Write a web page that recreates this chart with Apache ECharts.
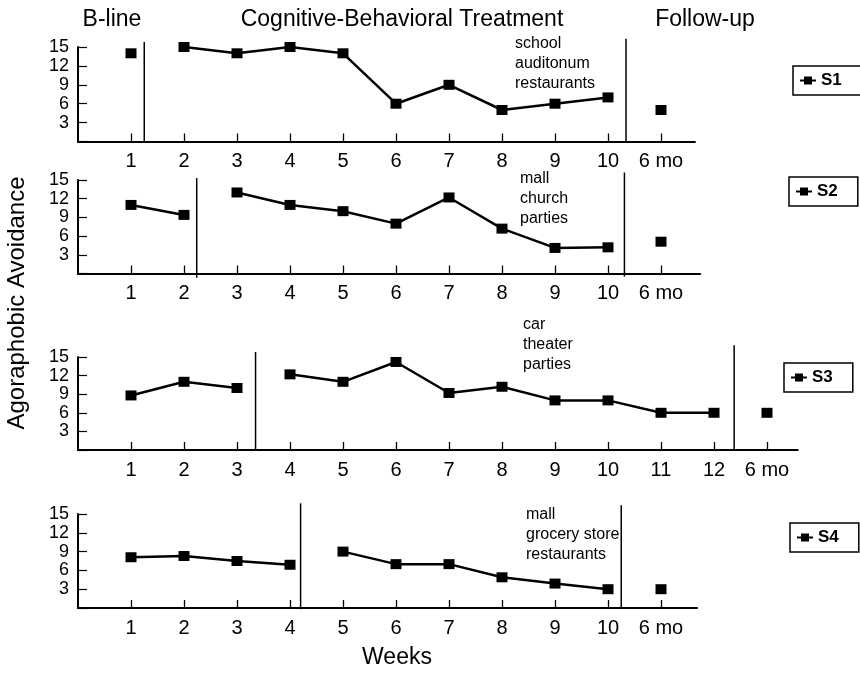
<!DOCTYPE html>
<html>
<head>
<meta charset="utf-8">
<script src="https://cdn.jsdelivr.net/npm/echarts@6/dist/echarts.min.js"></script>
<style>
html,body{margin:0;padding:0;background:#fff;}
#chart{width:860px;height:673px;}
</style>
</head>
<body>
<div id="chart"></div>
<script>
// ---------- DATA ----------
const phaseTitles = ['B-line', 'Cognitive-Behavioral Treatment', 'Follow-up'];
const yTitle = 'Agoraphobic Avoidance';
const xTitle = 'Weeks';

const S1_baseline = [14];
const S1_treatment = [15, 14, 15, 14, 6, 9, 5, 6, 7];
const S1_followup = [5];
const S1_ticks = ['1', '2', '3', '4', '5', '6', '7', '8', '9', '10', '6 mo'];
const S1_phaseBreaks = [1.25, 10.34];
const S1_places = ['school', 'auditonum', 'restaurants'];

const S2_baseline = [11, 9.4];
const S2_treatment = [13, 11, 10, 8, 12.2, 7.2, 4.1, 4.2];
const S2_followup = [5.1];
const S2_ticks = ['1', '2', '3', '4', '5', '6', '7', '8', '9', '10', '6 mo'];
const S2_phaseBreaks = [2.24, 10.31];
const S2_places = ['mall', 'church', 'parties'];

const S3_baseline = [8.8, 11, 10];
const S3_treatment = [12.2, 11, 14.2, 9.2, 10.2, 8, 8, 6, 6];
const S3_followup = [6];
const S3_ticks = ['1', '2', '3', '4', '5', '6', '7', '8', '9', '10', '11', '12', '6 mo'];
const S3_phaseBreaks = [3.35, 12.38];
const S3_places = ['car', 'theater', 'parties'];

const S4_baseline = [8.1, 8.3, 7.5, 6.9];
const S4_treatment = [9, 7, 7, 4.9, 3.9, 3];
const S4_followup = [3];
const S4_ticks = ['1', '2', '3', '4', '5', '6', '7', '8', '9', '10', '6 mo'];
const S4_phaseBreaks = [4.2, 10.25];
const S4_places = ['mall', 'grocery store', 'restaurants'];

const subjects = [
  {name: 'S1', baseline: S1_baseline, treatment: S1_treatment, followup: S1_followup, ticks: S1_ticks, breaks: S1_phaseBreaks, places: S1_places},
  {name: 'S2', baseline: S2_baseline, treatment: S2_treatment, followup: S2_followup, ticks: S2_ticks, breaks: S2_phaseBreaks, places: S2_places},
  {name: 'S3', baseline: S3_baseline, treatment: S3_treatment, followup: S3_followup, ticks: S3_ticks, breaks: S3_phaseBreaks, places: S3_places},
  {name: 'S4', baseline: S4_baseline, treatment: S4_treatment, followup: S4_followup, ticks: S4_ticks, breaks: S4_phaseBreaks, places: S4_places}
];

// ---------- LAYOUT ----------
const FONT = "'Liberation Sans', Arial, Helvetica, sans-serif";
const PX_PER_WEEK = 53;
const GRID_LEFT = 78;
const layout = [
  {top: 47,  height: 94.5, xMax: 11.64, legend: [793, 66],  note: [515, 33.5], lineTop: [15.8, 16.3], lineBottom: [0, 0]},
  {top: 180, height: 93.5, xMax: 11.74, legend: [789, 177], note: [520, 168.5], lineTop: [15.3, 16.2], lineBottom: [-0.7, -0.5]},
  {top: 357, height: 93,   xMax: 13.58, legend: [784, 363], note: [523, 315],  lineTop: [15.8, 16.9], lineBottom: [0, 0]},
  {top: 514, height: 94,   xMax: 11.68, legend: [790, 523], note: [526, 505],  lineTop: [16.7, 16.4], lineBottom: [-0.2, 0]}
];

const grids = [], xAxes = [], yAxes = [], series = [], legends = [], graphics = [];

subjects.forEach((s, i) => {
  const L = layout[i];
  grids.push({left: GRID_LEFT, top: L.top, width: L.xMax * PX_PER_WEEK, height: L.height, containLabel: false, outerBoundsMode: 'none'});
  const tickVals = s.ticks.map((t, k) => k + 1);
  xAxes.push({
    type: 'value', gridIndex: i, min: 0, max: L.xMax, interval: 1,
    axisLine: {show: true, onZero: false, lineStyle: {color: '#000', width: 2}},
    axisTick: {show: true, inside: true, length: 8, customValues: tickVals, lineStyle: {color: '#000', width: 1.3}},
    axisLabel: {show: true, customValues: tickVals, margin: 10, color: '#000', fontSize: 20, fontFamily: FONT,
      showMinLabel: true, showMaxLabel: true, hideOverlap: false,
      formatter: v => s.ticks[Math.round(v) - 1] || ''},
    splitLine: {show: false}
  });
  yAxes.push({
    type: 'value', gridIndex: i, min: 0, max: 15, interval: 3,
    axisLine: {show: true, lineStyle: {color: '#000', width: 2}},
    axisTick: {show: true, inside: true, length: 9, interval: 0, lineStyle: {color: '#000', width: 1.2}},
    axisLabel: {show: true, interval: 0, margin: 9, color: '#000', fontSize: 18, fontFamily: FONT, lineHeight: 12,
      showMinLabel: true, showMaxLabel: true, hideOverlap: false,
      formatter: v => (v === 0 ? '' : String(v))},
    splitLine: {show: false}
  });
  const nb = s.baseline.length, nt = s.treatment.length;
  const common = {
    type: 'line', name: s.name, xAxisIndex: i, yAxisIndex: i,
    symbol: 'rect', symbolSize: [11, 10], showSymbol: true,
    lineStyle: {color: '#000', width: 2.5}, itemStyle: {color: '#000'},
    silent: true, z: 3
  };
  series.push(Object.assign({}, common, {data: s.baseline.map((v, k) => [k + 1, v])}));
  series.push(Object.assign({}, common, {data: s.treatment.map((v, k) => [nb + k + 1, v])}));
  series.push(Object.assign({}, common, {data: s.followup.map((v, k) => [nb + nt + k + 1, v])}));
  s.breaks.forEach((b, k) => {
    series.push({
      type: 'line', name: '_phase' + i + k, xAxisIndex: i, yAxisIndex: i, symbol: 'none', clip: false,
      lineStyle: {color: '#000', width: 1.5}, silent: true, z: 2,
      data: [[b, L.lineBottom[k]], [b, L.lineTop[k]]]
    });
  });
  legends.push({
    data: [s.name], left: L.legend[0], top: L.legend[1], orient: 'horizontal',
    padding: [6, 20, 6, 6], itemWidth: 16, itemHeight: 10,
    borderColor: '#000', borderWidth: 1.5, backgroundColor: '#fff',
    selectedMode: false,
    textStyle: {color: '#000', fontSize: 17, fontWeight: 'bold', fontFamily: FONT}
  });
  graphics.push({
    type: 'text', x: L.note[0], y: L.note[1], silent: true,
    style: {text: s.places.join('\n'), fill: '#000', font: '16px ' + FONT, lineHeight: 20, textVerticalAlign: 'top', textAlign: 'left'}
  });
});

const titlePos = [[112, 20], [402, 20], [705, 20]];
phaseTitles.forEach((t, k) => {
  graphics.push({type: 'text', x: titlePos[k][0], y: titlePos[k][1], silent: true,
    style: {text: t, fill: '#000', font: '23px ' + FONT, textAlign: 'center', textVerticalAlign: 'middle'}});
});
graphics.push({type: 'text', x: 17, y: 303, rotation: Math.PI / 2, silent: true,
  style: {text: yTitle, fill: '#000', font: '24px ' + FONT, textAlign: 'center', textVerticalAlign: 'middle'}});
graphics.push({type: 'text', x: 397, y: 658, silent: true,
  style: {text: xTitle, fill: '#000', font: '23px ' + FONT, textAlign: 'center', textVerticalAlign: 'middle'}});

const chart = echarts.init(document.getElementById('chart'), null, {renderer: 'canvas'});
chart.setOption({
  animation: false,
  backgroundColor: '#fff',
  textStyle: {fontFamily: FONT},
  grid: grids, xAxis: xAxes, yAxis: yAxes, series: series, legend: legends, graphic: graphics
});
</script>
</body>
</html>
